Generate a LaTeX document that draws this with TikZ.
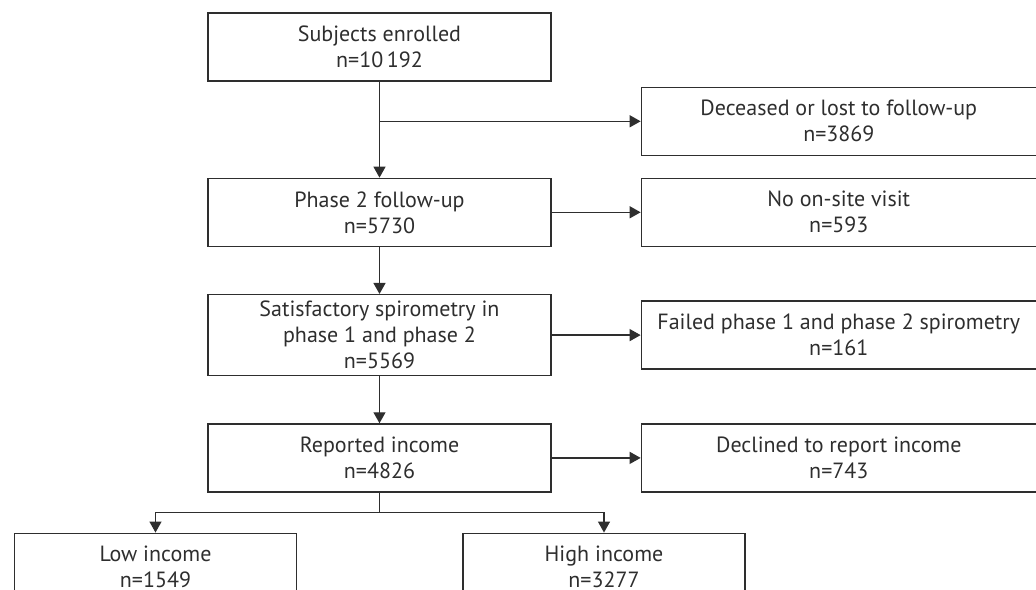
\documentclass[tikz,border=0pt]{standalone}
\usepackage{fontspec}
\setmainfont{PT Sans}
\usepackage{tikz}
\usetikzlibrary{positioning,arrows.meta}

\definecolor{inkgray}{HTML}{2E2E2E}

\begin{document}
\begin{tikzpicture}[
  node distance=47pt,
  every node/.style={text=inkgray, font=\fontsize{22}{26}\selectfont},
  box/.style={draw=inkgray, line width=1.3pt, align=center, minimum width=343pt, minimum height=68pt, inner sep=2pt},
  sidebox/.style={box, minimum width=395pt},
  leafbox/.style={box, minimum width=282pt},
  arr/.style={-{Triangle[length=11pt,width=12pt]}, draw=inkgray, line width=1.3pt}
]
\useasboundingbox (-379.5pt,-542pt) rectangle (656.5pt,47pt);
\clip (-379.5pt,-542pt) rectangle (656.5pt,47pt);

\node[box] (enrol) {Subjects enrolled\\n=10\,192};
\node[box, below=96pt of enrol] (phase) {Phase 2 follow-up\\n=5730};
\node[box, below=of phase, minimum height=81pt] (spiro) {Satisfactory spirometry in\\phase 1 and phase 2\\n=5569};
\node[box, below=of spiro] (income) {Reported income\\n=4826};

\node[sidebox, below right=5pt and 89pt of enrol] (lost) {Deceased or lost to follow-up\\n=3869};
\node[sidebox, right=89pt of phase] (nosite) {No on-site visit\\n=593};
\node[sidebox, right=89pt of spiro] (failed) {Failed phase 1 and phase 2 spirometry\\n=161};
\node[sidebox, right=89pt of income] (declined) {Declined to report income\\n=743};

\node[leafbox, below=40pt of income, xshift=-224pt] (low) {Low income\\n=1549};
\node[leafbox, below=40pt of income, xshift=224.5pt] (high) {High income\\n=3277};

\draw[arr] (enrol) -- (phase);
\draw[arr] (enrol |- lost) -- (lost);
\draw[arr] (phase) -- (nosite);
\draw[arr] (phase) -- (spiro);
\draw[arr] (spiro) -- (failed);
\draw[arr] (spiro) -- (income);
\draw[arr] (income) -- (declined);
\draw[arr] (income.south) -- ++(0,-20pt) -| (low.north);
\draw[arr] (income.south) -- ++(0,-20pt) -| (high.north);
\end{tikzpicture}
\end{document}
